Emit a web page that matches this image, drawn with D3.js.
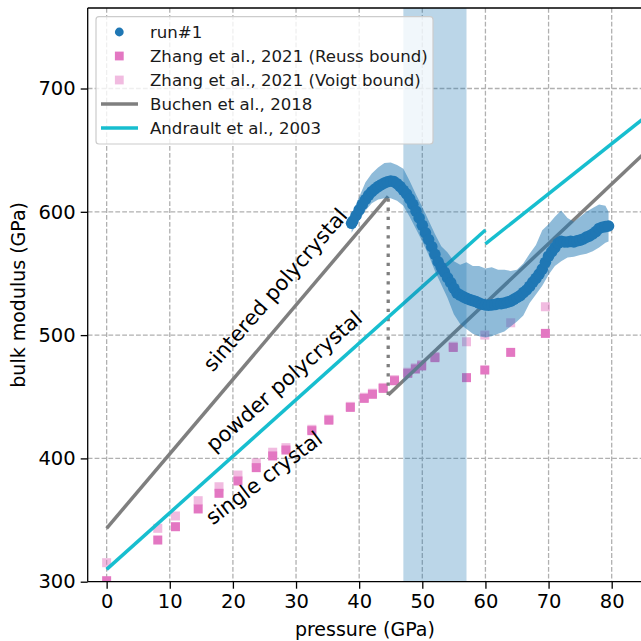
<!DOCTYPE html>
<html>
<head>
<meta charset="utf-8">
<script src="https://d3js.org/d3.v7.min.js"></script>
<style>
  body { margin: 0; background: #fff; }
  svg { display: block; font-family: "DejaVu Sans", sans-serif; }
</style>
</head>
<body>
<svg width="641" height="641"></svg>
<script>
// run#1 (dense points)
var runP = [38.8, 39.0, 39.5, 40.0, 40.5, 41.0, 41.5, 42.0, 42.5, 43.0, 43.5, 44.0, 44.5, 45.0, 45.5, 46.0, 46.5, 47.0, 47.5, 48.0,
            48.5, 49.0, 49.5, 50.0, 50.5, 51.0, 51.5, 52.0, 52.5, 53.0, 53.5, 54.0, 54.5, 55.0, 55.5, 56.0, 56.5, 57.0, 57.5, 58.0,
            58.5, 59.0, 59.5, 60.0, 60.5, 61.0, 61.5, 62.0, 62.5, 63.0, 63.5, 64.0, 64.5, 65.0, 65.5, 66.0, 66.5, 67.0, 67.5, 68.0,
            68.5, 69.0, 69.5, 70.0, 70.5, 71.0, 71.5, 72.0, 72.5, 73.0, 73.5, 74.0, 74.5, 75.0, 75.5, 76.0, 76.5, 77.0, 77.5, 78.0,
            78.5, 79.0, 79.5];
var runK = [590.7, 592.5, 597, 601.5, 606, 610, 613.5, 616.3, 618.5, 620.4, 622, 623.4, 624.4, 625, 624.5, 622.8, 620.5, 617.5, 614.5, 610.5,
            606, 600.5, 595, 589, 583, 577.5, 571.7, 565.5, 559.5, 555, 551, 546.5, 542.5, 538, 534, 532.5, 531, 529.8, 528.8, 528,
            527.2, 526, 525, 524.4, 524.2, 524.5, 524.8, 525.5, 525.5, 526, 526.8, 527.5, 529, 530.5, 532, 534.5, 536.6, 539.5, 543, 546,
            549.5, 553.5, 559, 564, 567.6, 571, 574.5, 576, 575.5, 575.5, 576, 575.5, 576.5, 577, 578, 579.5, 580.5, 582, 584, 586.5,
            587.5, 588, 588.5];

// run#1 uncertainty band
var bandP  = [38.8, 39.5, 40, 41, 42, 43, 44, 45, 46, 47, 48, 49, 50, 51, 52, 53, 54, 55, 56, 57, 58, 59, 60,
              61, 62, 63, 64, 65, 66, 67, 68, 69, 70, 71, 72, 73, 74, 75, 76, 77, 78, 79, 79.5];
var bandLo = [583, 589, 593, 601, 607, 610, 611, 611, 609, 605, 596, 586, 576, 565, 552, 541, 530, 517, 509, 505, 501, 499, 498,
              499, 501, 503, 507, 511, 516, 526, 533, 540, 549, 556, 560, 563, 563.5, 565, 566, 568, 571, 575, 576];
var bandHi = [597, 606, 612, 624, 631, 636, 639.5, 640, 638, 635, 625, 614, 604, 593, 582, 572, 567, 560, 557, 559, 556, 556, 554,
              555, 553, 553, 552, 553, 558, 566, 573, 585, 590, 596, 601, 595, 592, 596, 600, 603, 606, 605, 600];

// Zhang et al., 2021
var zhangP = [0, 8.1, 10.9, 14.5, 17.8, 20.8, 23.7, 26.3, 28.4, 32.5, 35.2, 38.6, 40.8, 42.1, 43.8, 45.6, 47.7, 48.9, 49.9, 52.0,
              54.9, 57.0, 59.9, 64.0, 69.5];
var reussK = [300.8, 333.8, 344.6, 359, 371.7, 381.7, 392.5, 402, 406.8, 422.5, 431, 441.4, 448.7, 452, 456.8, 463, 469, 472.5, 475, 481.7,
              490, 465.5, 471.7, 486, 501.4];
var voigtK = [315.4, 343.3, 353.3, 365.7, 377, 386.5, 396.5, 405, 408.7, 423.6, 431.8, 442.2, 449.6, 452.9, 457.6, 463.9, 469.9, 473.4, 476, 482.6,
              491, 494.6, 500, 510, 523];

// Buchen et al., 2018
var buchenSinteredP = [0, 44.6], buchenSinteredK = [343.3, 612.5];
var buchenSingleP = [44.6, 90], buchenSingleK = [451.5, 670.8];
var dottedP = [44.6, 44.6], dottedK = [451.5, 612.5];

// Andrault et al., 2003
var andrault1P = [0, 60], andrault1K = [310, 585.2];
var andrault2P = [60, 90], andrault2K = [574, 695.8];

var spanP = [47, 57];

var xTicks = [0, 10, 20, 30, 40, 50, 60, 70, 80];
var yTicks = [300, 400, 500, 600, 700];

var notes = [
  {text: "sintered polycrystal", p: 16.8, k: 469.5, angle: 49},
  {text: "powder polycrystal",   p: 17.0, k: 404.5, angle: 41.5},
  {text: "single crystal",       p: 16.8, k: 345.5, angle: 37}
];

var legendItems = [
  {label: "run#1", type: "circle", color: "#1f77b4", opacity: 1},
  {label: "Zhang et al., 2021 (Reuss bound)", type: "square", color: "#e377c2", opacity: 1},
  {label: "Zhang et al., 2021 (Voigt bound)", type: "square", color: "#e377c2", opacity: 0.5},
  {label: "Buchen et al., 2018", type: "line", color: "#7f7f7f", opacity: 1},
  {label: "Andrault et al., 2003", type: "line", color: "#17becf", opacity: 1}
];

var svg = d3.select("svg"),
    pLeft = 87.7, pRight = 642, pTop = 8, pBottom = 581.7;

var x = d3.scaleLinear().domain([-3.0, 84.8]).range([pLeft, pRight]);
var y = d3.scaleLinear().domain([300, 765.3]).range([pBottom, pTop]);

svg.append("defs").append("clipPath").attr("id", "plotclip")
  .append("rect").attr("x", pLeft).attr("y", pTop).attr("width", pRight - pLeft).attr("height", pBottom - pTop);

var plot = svg.append("g").attr("clip-path", "url(#plotclip)");

// grid
plot.append("g").selectAll("line").data(xTicks).enter().append("line")
  .attr("x1", d => x(d)).attr("x2", d => x(d)).attr("y1", pTop).attr("y2", pBottom)
  .attr("stroke", "#b0b0b0").attr("stroke-width", 1.3).attr("stroke-dasharray", "4.8,2.1");
plot.append("g").selectAll("line").data(yTicks).enter().append("line")
  .attr("x1", pLeft).attr("x2", pRight).attr("y1", d => y(d)).attr("y2", d => y(d))
  .attr("stroke", "#b0b0b0").attr("stroke-width", 1.3).attr("stroke-dasharray", "4.8,2.1");

// Zhang squares
var sq = 9;
plot.append("g").selectAll("rect").data(zhangP).enter().append("rect")
  .attr("x", d => x(d) - sq / 2).attr("y", (d, i) => y(reussK[i]) - sq / 2)
  .attr("width", sq).attr("height", sq).attr("fill", "#e377c2");
plot.append("g").selectAll("rect").data(zhangP).enter().append("rect")
  .attr("x", d => x(d) - sq / 2).attr("y", (d, i) => y(voigtK[i]) - sq / 2)
  .attr("width", sq).attr("height", sq).attr("fill", "#e377c2").attr("fill-opacity", 0.5);

// reference lines
var line = d3.line().x(d => x(d[0])).y(d => y(d[1]));
function seg(ps, ks, color, dash) {
  var p = plot.append("path")
    .attr("d", line(ps.map((v, i) => [v, ks[i]])))
    .attr("fill", "none").attr("stroke", color).attr("stroke-width", 3.5);
  if (dash) p.attr("stroke-dasharray", dash).attr("stroke-width", 3.3);
}
seg(buchenSinteredP, buchenSinteredK, "#7f7f7f");
seg(buchenSingleP, buchenSingleK, "#7f7f7f");
seg(dottedP, dottedK, "#7f7f7f", "3.3,5.9");
seg(andrault1P, andrault1K, "#17becf");
seg(andrault2P, andrault2K, "#17becf");

// span
plot.append("rect")
  .attr("x", x(spanP[0])).attr("width", x(spanP[1]) - x(spanP[0]))
  .attr("y", pTop).attr("height", pBottom - pTop)
  .attr("fill", "#1f77b4").attr("fill-opacity", 0.3);

// band
var area = d3.area().x(d => x(d)).y0((d, i) => y(bandLo[i])).y1((d, i) => y(bandHi[i]));
plot.append("path").attr("d", area(bandP)).attr("fill", "#1f77b4").attr("fill-opacity", 0.5);

// run#1 points
plot.append("g").selectAll("circle").data(runP).enter().append("circle")
  .attr("cx", d => x(d)).attr("cy", (d, i) => y(runK[i])).attr("r", 5.8)
  .attr("fill", "#1f77b4");

// annotations
svg.append("g").selectAll("text").data(notes).enter().append("text")
  .attr("transform", d => "translate(" + x(d.p) + "," + y(d.k) + ") rotate(" + (-d.angle) + ")")
  .attr("font-size", 21).attr("fill", "#000").text(d => d.text);

// spines
svg.append("line").attr("x1", pLeft).attr("x2", pLeft).attr("y1", pTop).attr("y2", pBottom).attr("stroke", "#000").attr("stroke-width", 1.3);
svg.append("line").attr("x1", pLeft).attr("x2", pRight).attr("y1", pBottom).attr("y2", pBottom).attr("stroke", "#000").attr("stroke-width", 1.3);
svg.append("line").attr("x1", pLeft).attr("x2", pRight).attr("y1", pTop).attr("y2", pTop).attr("stroke", "#000").attr("stroke-width", 1.3);

// axes
var xAxis = svg.append("g").attr("transform", "translate(0," + pBottom + ")")
  .call(d3.axisBottom(x).tickValues(xTicks).tickSize(7).tickPadding(5).tickFormat(d3.format("d")));
var yAxis = svg.append("g").attr("transform", "translate(" + pLeft + ",0)")
  .call(d3.axisLeft(y).tickValues(yTicks).tickSize(7).tickPadding(5).tickFormat(d3.format("d")));
[xAxis, yAxis].forEach(function(a) {
  a.select(".domain").remove();
  a.selectAll("line").attr("stroke", "#000").attr("stroke-width", 1.3);
  a.selectAll("text").attr("font-size", 19.5).attr("font-family", "DejaVu Sans").attr("fill", "#000");
});

svg.append("text").attr("x", (pLeft + pRight) / 2).attr("y", 636)
  .attr("text-anchor", "middle").attr("font-size", 19).text("pressure (GPa)");
svg.append("text").attr("transform", "translate(25," + ((pTop + pBottom) / 2) + ") rotate(-90)")
  .attr("text-anchor", "middle").attr("font-size", 19).text("bulk modulus (GPa)");

// legend
var lg = svg.append("g");
lg.append("rect").attr("x", 96).attr("y", 16.7).attr("width", 337).attr("height", 127.3)
  .attr("rx", 3).attr("fill", "#fff").attr("fill-opacity", 0.8).attr("stroke", "#cccccc").attr("stroke-width", 1.2);
var rows = lg.selectAll("g.row").data(legendItems).enter().append("g")
  .attr("transform", (d, i) => "translate(0," + (32 + i * 24) + ")");
rows.each(function(d) {
  var g = d3.select(this);
  if (d.type === "circle") {
    g.append("circle").attr("cx", 119.3).attr("cy", 0).attr("r", 4.4).attr("fill", d.color);
  } else if (d.type === "square") {
    g.append("rect").attr("x", 119.3 - 4.4).attr("y", -4.4).attr("width", 8.8).attr("height", 8.8)
      .attr("fill", d.color).attr("fill-opacity", d.opacity);
  } else {
    g.append("line").attr("x1", 101).attr("x2", 138).attr("y1", 0).attr("y2", 0)
      .attr("stroke", d.color).attr("stroke-width", 3.5);
  }
  g.append("text").attr("x", 150).attr("y", 0).attr("dy", "0.36em")
    .attr("font-size", 16.6).attr("fill", "#1a1a1a").text(d.label);
});
</script>
</body>
</html>
